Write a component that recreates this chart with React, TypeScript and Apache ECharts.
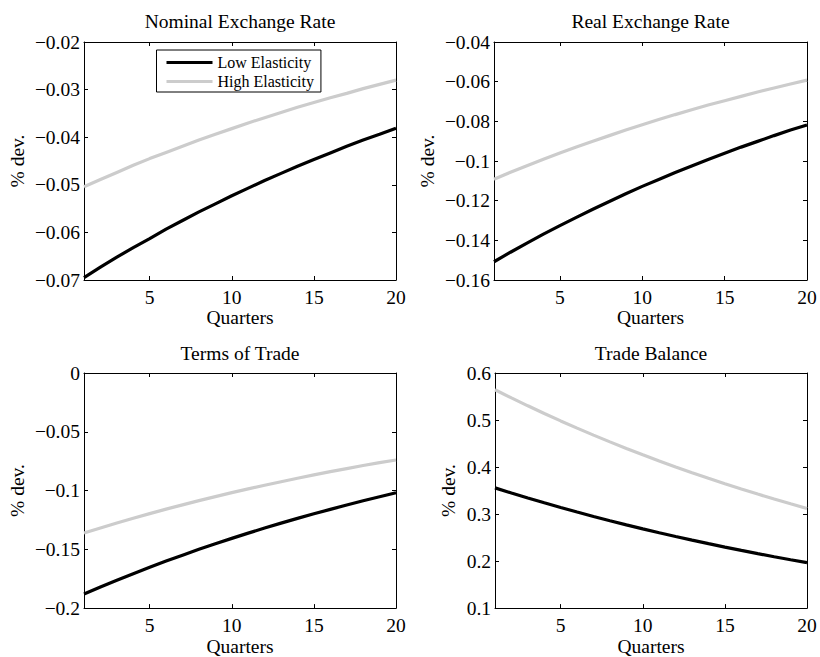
import React, { useEffect, useRef } from "react";
import * as echarts from "echarts";

const quarters = [1, 2, 3, 4, 5, 6, 7, 8, 9, 10, 11, 12, 13, 14, 15, 16, 17, 18, 19, 20];
const xTicks = [5, 10, 15, 20];

const titles = ["Nominal Exchange Rate", "Real Exchange Rate", "Terms of Trade", "Trade Balance"];
const seriesNames = ["Low Elasticity", "High Elasticity"];

const nominalLow = [-0.0695, -0.0673, -0.0652, -0.0632, -0.0613, -0.0593, -0.0575, -0.0557, -0.054, -0.0523, -0.0507, -0.0491, -0.0476, -0.0461, -0.0447, -0.0433, -0.0419, -0.0406, -0.0394, -0.0381];
const nominalHigh = [-0.0504, -0.0489, -0.0474, -0.0459, -0.0445, -0.0432, -0.0419, -0.0406, -0.0394, -0.0382, -0.037, -0.0359, -0.0348, -0.0337, -0.0327, -0.0317, -0.0308, -0.0298, -0.0289, -0.028];
const realLow = [-0.1508, -0.146, -0.1414, -0.1369, -0.1326, -0.1284, -0.1243, -0.1204, -0.1165, -0.1128, -0.1093, -0.1058, -0.1025, -0.0992, -0.0961, -0.093, -0.0901, -0.0872, -0.0844, -0.0818];
const realHigh = [-0.1092, -0.1057, -0.1024, -0.0991, -0.096, -0.093, -0.09, -0.0872, -0.0844, -0.0817, -0.0791, -0.0766, -0.0742, -0.0718, -0.0696, -0.0674, -0.0652, -0.0632, -0.0612, -0.0592];
const totLow = [-0.188, -0.182, -0.1763, -0.1707, -0.1653, -0.16, -0.155, -0.15, -0.1453, -0.1407, -0.1362, -0.1319, -0.1277, -0.1237, -0.1198, -0.116, -0.1123, -0.1087, -0.1053, -0.1019];
const totHigh = [-0.1361, -0.1318, -0.1276, -0.1236, -0.1196, -0.1158, -0.1122, -0.1086, -0.1052, -0.1018, -0.0986, -0.0955, -0.0925, -0.0895, -0.0867, -0.0839, -0.0813, -0.0787, -0.0762, -0.074];
const tbLow = [0.3557, 0.3448, 0.3342, 0.3239, 0.3139, 0.3043, 0.2949, 0.2859, 0.2771, 0.2686, 0.2603, 0.2523, 0.2446, 0.2371, 0.2298, 0.2227, 0.2159, 0.2092, 0.2028, 0.1966];
const tbHigh = [0.5643, 0.547, 0.5302, 0.5139, 0.4981, 0.4828, 0.4679, 0.4535, 0.4396, 0.4261, 0.413, 0.4003, 0.388, 0.3761, 0.3645, 0.3533, 0.3425, 0.3319, 0.3218, 0.3118];

const yMins = [-0.07, -0.16, -0.2, 0.1];
const yMaxs = [-0.02, -0.04, 0, 0.6];
const yIntervals = [0.01, 0.02, 0.05, 0.1];

const panelData = [
  [nominalLow, nominalHigh],
  [realLow, realHigh],
  [totLow, totHigh],
  [tbLow, tbHigh],
];

const FONT = "Liberation Serif";
const grids = [
  { left: 84, top: 42, width: 312, height: 238 },
  { left: 494, top: 42, width: 313, height: 238 },
  { left: 84, top: 373, width: 312, height: 238 },
  { left: 495, top: 373, width: 312, height: 238 },
];
const nameGaps = [57, 57, 57, 37];
const titleTops = [11, 11, 343, 343];
const colors = ["#000000", "#cccccc"];

const fmt = (v: number) => String(parseFloat(v.toFixed(4))).replace("-", "\u2212");

export default function App() {
  const ref = useRef<HTMLDivElement>(null);
  useEffect(() => {
    if (!ref.current) return;
    const chart = echarts.init(ref.current, undefined, { renderer: "svg" });
    const xAxis: any[] = [];
    const yAxis: any[] = [];
    const series: any[] = [];
    const title: any[] = [];
    grids.forEach((g, i) => {
      title.push({
        text: titles[i],
        left: g.left + g.width / 2,
        top: titleTops[i],
        textAlign: "center",
        padding: 0,
        textStyle: { fontFamily: FONT, fontSize: 19.5, fontWeight: "normal", color: "#000" },
      });
      const baseX = {
        type: "value",
        gridIndex: i,
        min: 1,
        max: 20,
        splitLine: { show: false },
        axisLine: { show: true, onZero: false, lineStyle: { color: "#000", width: 1 } },
        axisTick: { show: true, inside: true, length: 4, customValues: xTicks, lineStyle: { color: "#000" } },
      };
      xAxis.push({
        ...baseX,
        position: "bottom",
        name: "Quarters",
        nameLocation: "middle",
        nameGap: 26,
        nameTextStyle: { fontFamily: FONT, fontSize: 19.5, color: "#000" },
        axisLabel: { show: true, customValues: xTicks, margin: 7, fontFamily: FONT, fontSize: 19.5, color: "#000" },
      });
      xAxis.push({ ...baseX, position: "top", axisLabel: { show: false } });
      const baseY = {
        type: "value",
        gridIndex: i,
        min: yMins[i],
        max: yMaxs[i],
        interval: yIntervals[i],
        splitLine: { show: false },
        axisLine: { show: true, onZero: false, lineStyle: { color: "#000", width: 1 } },
        axisTick: { show: true, inside: true, length: 4, lineStyle: { color: "#000" } },
      };
      yAxis.push({
        ...baseY,
        position: "left",
        name: "% dev.",
        nameLocation: "middle",
        nameGap: nameGaps[i],
        nameTextStyle: { fontFamily: FONT, fontSize: 19.5, color: "#000" },
        axisLabel: { show: true, margin: 4, formatter: fmt, fontFamily: FONT, fontSize: 19.5, color: "#000" },
      });
      yAxis.push({ ...baseY, position: "right", axisLabel: { show: false } });
      panelData[i].forEach((vals, k) => {
        series.push({
          type: "line",
          name: seriesNames[k],
          xAxisIndex: 2 * i,
          yAxisIndex: 2 * i,
          symbol: "none",
          showSymbol: false,
          lineStyle: { color: colors[k], width: 3.2 },
          itemStyle: { color: colors[k] },
          z: k === 0 ? 3 : 2,
          data: quarters.map((q, j) => [q, vals[j]]),
        });
      });
    });
    chart.setOption({
      animation: false,
      backgroundColor: "#ffffff",
      textStyle: { fontFamily: FONT },
      title,
      grid: grids.map((g) => ({ ...g, containLabel: false })),
      xAxis,
      yAxis,
      legend: {
        data: seriesNames.map((n) => ({ name: n, icon: "rect" })),
        left: 156.5,
        top: 50,
        orient: "vertical",
        backgroundColor: "#ffffff",
        borderColor: "#000",
        borderWidth: 1,
        borderRadius: 0,
        padding: [4, 7, 2, 10],
        itemWidth: 46,
        itemHeight: 3,
        itemGap: 2,
        itemTextGap: 6,
        textStyle: { fontFamily: FONT, fontSize: 16, color: "#000", lineHeight: 17 },
      },
      series,
    });
    return () => chart.dispose();
  }, []);
  return (
    <div
      ref={ref}
      style={{ position: "fixed", left: 0, top: 0, width: 820, height: 657, background: "#fff" }}
    />
  );
}
